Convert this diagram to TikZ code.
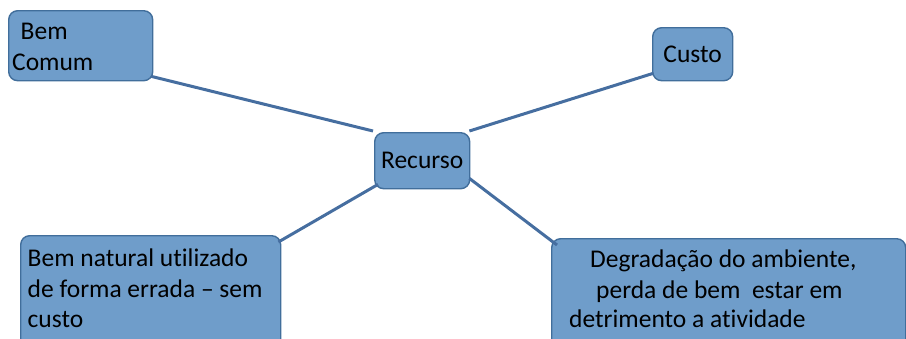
\documentclass[tikz,border=0pt]{standalone}
\usepackage{fontspec}
\setmainfont{Carlito}[Ligatures=NoCommon]
\definecolor{boxfill}{RGB}{111,157,202}
\definecolor{boxline}{RGB}{65,110,155}
\definecolor{linkcol}{RGB}{70,110,160}
\tikzset{
  box/.style={draw=boxline, fill=boxfill, line width=1.4pt, rounded corners=9pt, inner sep=0pt},
  txtfont/.style={font=\fontsize{25.5}{31}\selectfont},
  txt/.style={txtfont, anchor=base west, inner sep=0pt},
  link/.style={draw=linkcol, line width=3pt}
}
\begin{document}
\begin{tikzpicture}[x=1pt,y=-1pt]
\useasboundingbox (0,0) rectangle (906,338);
% boxes
\node[box, anchor=north west, minimum width=144pt, minimum height=70pt] (bc) at (8,10) {};
\node[box, txtfont, anchor=north west, minimum width=80pt, minimum height=53pt] (cu) at (652,27) {Custo};
\node[box, txtfont, anchor=north west, minimum width=95pt, minimum height=56pt] (re) at (374,132) {Recurso};
\node[box, anchor=north west, minimum width=260pt, minimum height=120pt] (bn) at (20,235) {};
\node[box, anchor=north west, minimum width=354pt, minimum height=120pt] (dg) at (551,238) {};
% texts
\node[txt] (bc1) at (20.5,39) {Bem};
\node[txt] (bc2) at (12,70) {Comum};
\node[txt] (bn1) at (27.5,266) {Bem natural utilizado};
\node[txt] (bn2) at (27.5,297) {de forma errada – sem};
\node[txt] (bn3) at (27.5,327) {custo};
\node[txt] (dg1) at (590,267) {Degradação do ambiente,};
\node[txt] (dg2) at (596,298) {perda de bem\ \ estar em};
\node[txt] (dg3) at (569,327) {detrimento a atividade};
% connectors
\draw[link] ([xshift=-2pt,yshift=5pt]bc.south east) -- ([xshift=-1pt,yshift=1pt]re.north west);
\draw[link] ([xshift=-1pt,yshift=1pt]re.north east) -- ([xshift=1pt,yshift=8pt]cu.south west);
\draw[link] ([xshift=4pt,yshift=5pt]re.south west) -- ([xshift=-3pt,yshift=-7pt]bn.north east);
\draw[link] ([xshift=-1pt,yshift=11pt]re.south east) -- ([xshift=6pt,yshift=-7pt]dg.north west);
\end{tikzpicture}
\end{document}
